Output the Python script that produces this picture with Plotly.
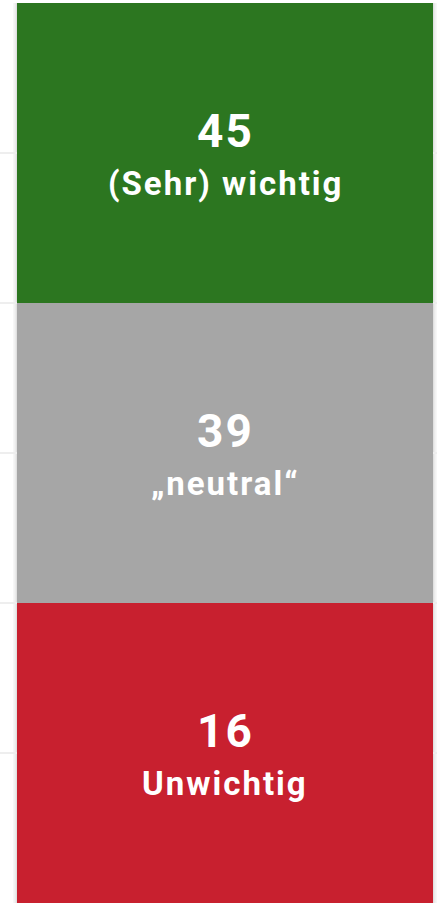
import plotly.graph_objects as go

# Data
categories = ["Unwichtig", "„neutral“", "(Sehr) wichtig"]   # bottom -> top
percent_values = [16, 39, 45]
segment_units = [1, 1, 1]          # each block drawn at equal height
segment_colors = ["#c8202f", "#a6a6a6", "#2c7620"]

W, H = 437, 908
fig = go.Figure()

# soft shadow behind the bar (decoration)
total = sum(segment_units)
for i, (op, grow) in enumerate([(0.03, 4), (0.04, 2.5), (0.05, 1.2)]):
    fig.add_shape(type="rect", xref="paper", yref="y",
                  x0=(17 - grow) / W, x1=(433 + grow) / W,
                  y0=-grow / 300, y1=total,
                  fillcolor=f"rgba(0,0,0,{op})", line_width=0, layer="below")

LS = "<span style='letter-spacing:2px'>{}</span>"
base = 0
for cat, pct, u, col in zip(categories, percent_values, segment_units, segment_colors):
    fig.add_trace(go.Bar(x=[0], y=[u], base=[base], width=1, marker_color=col,
                         marker_line_width=0, hoverinfo="skip", showlegend=False))
    mid = base + u / 2
    fig.add_annotation(x=0, y=mid, text="<b>" + LS.format(pct) + "</b>", showarrow=False,
                       yshift=22, font=dict(family="Roboto", size=46, color="white"))
    fig.add_annotation(x=0, y=mid, text="<b>" + LS.format(cat) + "</b>", showarrow=False,
                       yshift=-30, font=dict(family="Roboto", size=33, color="white"))
    base += u

fig.update_layout(
    width=W, height=H, barmode="stack",
    margin=dict(l=0, r=0, t=3, b=5),
    paper_bgcolor="white", plot_bgcolor="white",
    xaxis=dict(range=[-0.5 - 17 / 416, 0.5 + 4 / 416], visible=False),
    yaxis=dict(range=[0, total], dtick=0.5, showgrid=True, gridcolor="#eeeeee",
               gridwidth=2, zeroline=False, showticklabels=False, ticks=""),
)
fig.write_html("out.html", config={"displayModeBar": False},
               post_script="document.body.style.margin='0';document.body.style.overflow='hidden';")
